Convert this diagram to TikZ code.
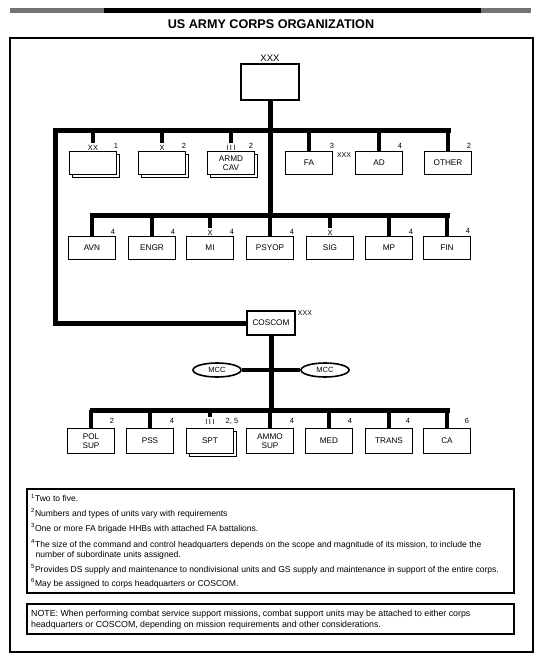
\documentclass[tikz,border=0pt]{standalone}
\usepackage{fontspec}
\setmainfont{Liberation Sans}
\usetikzlibrary{shadows,shapes.geometric}
\newcommand{\triI}{I\hspace{1.6pt}I\hspace{1.6pt}I}
\begin{document}
\begin{tikzpicture}[x=1pt,y=-1pt,
  bus/.style={line width=5pt},
  stub/.style={line width=4.5pt},
  unit/.style={draw, line width=1.6pt, fill=white, minimum width=47pt, minimum height=23pt,
    inner sep=1pt, font=\fontsize{8.2}{9}\selectfont, align=center},
  stack/.style={copy shadow={shadow xshift=3pt, shadow yshift=-3pt, draw, line width=1.3pt, fill=white}},
  lbl/.style={font=\fontsize{7.5}{8}\selectfont, inner sep=0pt},
  mcc/.style={draw, ellipse, line width=1.6pt, minimum width=48pt, minimum height=14pt,
    inner sep=0pt, fill=white, font=\fontsize{7.5}{8}\selectfont},
  note/.style={font=\fontsize{8.55}{9}\selectfont, anchor=west, inner sep=0pt},
  notetwo/.style={font=\fontsize{8.8}{9}\selectfont, anchor=west, inner sep=0pt},
  frame/.style={line width=1.5pt}
]
\useasboundingbox (0,0) rectangle (543,667);

% top band
\fill[black] (10,7.5) rectangle (531,12.5);
\fill[black!55] (10,7.5) rectangle (104,12.5);
\fill[black!55] (481,7.5) rectangle (531,12.5);

\node[font=\bfseries\fontsize{12.6}{14}\selectfont] (title) at (271,24) {US ARMY CORPS ORGANIZATION};

\draw[frame] (10,38) rectangle (533,652);

% corps HQ
\node[draw, line width=2.2pt, minimum width=58pt, minimum height=36pt] (corps) at (270,82) {};
\node[font=\fontsize{9.5}{10}\selectfont, inner sep=0pt] (corpsech) at (270,58) {XXX};

% bus coordinates
\coordinate (b1L) at (55,130);
\coordinate (b1R) at (450.5,130);
\coordinate (b2L) at (89.5,215);
\coordinate (b2R) at (450,215);
\coordinate (b3L) at (89.5,410);
\coordinate (b3R) at (449.5,410);

% row 1
\node[unit, stack] (xx) at (93,163) {};
\node[unit, stack] (x) at (162,163) {};
\node[unit, stack] (cav) at (231,163) {ARMD\\CAV};
\node[unit] (fa) at (309,163) {FA};
\node[unit] (ad) at (379,163) {AD};
\node[unit] (other) at (448,163) {OTHER};

\node[lbl] (exx) at (93,148) {XX};
\node[lbl] (ex) at (162,148) {X};
\node[lbl] (ecav) at (231,148) {\triI};
\node[lbl] (n1) at (116,146) {1};
\node[lbl] (n2) at (184,146) {2};
\node[lbl] (n3) at (251,146) {2};
\node[lbl] (n4) at (332,146) {3};
\node[lbl, font=\fontsize{7}{8}\selectfont] (fax) at (344,155) {XXX};
\node[lbl] (n5) at (400,146) {4};
\node[lbl] (n6) at (469,146) {2};

% row 2
\node[unit] (avn) at (92,248) {AVN};
\node[unit] (engr) at (152,248) {ENGR};
\node[unit] (mi) at (210,248) {MI};
\node[unit] (psyop) at (270,248) {PSYOP};
\node[unit] (sig) at (330,248) {SIG};
\node[unit] (mp) at (389,248) {MP};
\node[unit] (fin) at (447,248) {FIN};

\node[lbl] (emi) at (210,233) {X};
\node[lbl] (esig) at (330,233) {X};
\node[lbl] (m1) at (113,232) {4};
\node[lbl] (m2) at (173,232) {4};
\node[lbl] (m3) at (232,232) {4};
\node[lbl] (m4) at (292,232) {4};
\node[lbl] (m5) at (411,232) {4};
\node[lbl] (m6) at (468,231) {4};

% COSCOM
\node[unit, minimum width=48pt, minimum height=24pt] (coscom) at (271,323) {COSCOM};
\node[lbl, font=\fontsize{7}{8}\selectfont] (cosx) at (305,313) {XXX};

% MCCs
\node[mcc] (mccL) at (217,370) {MCC};
\node[mcc] (mccR) at (325,370) {MCC};

% row 3
\node[unit, minimum height=25pt] (pol) at (91,441) {POL\\SUP};
\node[unit, minimum height=25pt] (pss) at (150,441) {PSS};
\node[unit, stack, minimum height=25pt] (spt) at (210,441) {SPT};
\node[unit, minimum height=25pt] (ammo) at (270,441) {AMMO\\SUP};
\node[unit, minimum height=25pt] (med) at (329,441) {MED};
\node[unit, minimum height=25pt] (trans) at (389,441) {TRANS};
\node[unit, minimum height=25pt] (ca) at (447,441) {CA};

\node[lbl] (espt) at (210,422) {\triI};
\node[lbl] (k1) at (112,421) {2};
\node[lbl] (k2) at (172,421) {4};
\node[lbl] (k3) at (232,421) {2, 5};
\node[lbl] (k4) at (292,421) {4};
\node[lbl] (k5) at (350,421) {4};
\node[lbl] (k6) at (408,421) {4};
\node[lbl] (k7) at (467,421) {6};

% connectors
\draw[bus] (corps.south) -- (corps.south |- b2L);
\draw[bus, line join=miter] (coscom.west) -| (b1L) -- (b1R);
\draw[bus] (b2L) -- (b2R);
\draw[bus] (coscom.south) -- (coscom.south |- b3L);
\draw[bus] (b3L) -- (b3R);
\draw[line width=4.5pt] (mccL.east) -- (mccR.west);

\draw[stub] (xx |- b1L) -- ([yshift=2pt]exx.north);
\draw[stub] (x |- b1L) -- ([yshift=2pt]ex.north);
\draw[stub] (cav |- b1L) -- ([yshift=2pt]ecav.north);
\foreach \n in {fa,ad,other} \draw[stub] (\n |- b1L) -- (\n.north);

\foreach \n in {avn,engr,psyop,mp,fin} \draw[stub] (\n |- b2L) -- (\n.north);
\draw[stub] (mi |- b2L) -- ([yshift=2pt]emi.north);
\draw[stub] (sig |- b2L) -- ([yshift=2pt]esig.north);

\foreach \n in {pol,pss,ammo,med,trans,ca} \draw[stub] (\n |- b3L) -- (\n.north);
\draw[stub] (spt |- b3L) -- ([yshift=2pt]espt.north);

% footnotes
\draw[line width=1.4pt] (27,489) rectangle (514,593);
\node[note] (f1) at (31,498) {\textsuperscript{1}Two to five.};
\node[note] (f2) at (31,513) {\textsuperscript{2}Numbers and types of units vary with requirements};
\node[note] (f3) at (31,528) {\textsuperscript{3}One or more FA brigade HHBs with attached FA battalions.};
\node[note] (f4) at (31,544) {\textsuperscript{4}The size of the command and control headquarters depends on the scope and magnitude of its mission, to include the};
\node[note] (f4b) at (35.5,555) {number of subordinate units assigned.};
\node[note] (f5) at (31,569) {\textsuperscript{5}Provides DS supply and maintenance to nondivisional units and GS supply and maintenance in support of the entire corps.};
\node[note] (f6) at (31,583) {\textsuperscript{6}May be assigned to corps headquarters or COSCOM.};

\draw[line width=1.4pt] (27,604) rectangle (514,634);
\node[notetwo] (n1a) at (31,614) {NOTE: When performing combat service support missions, combat support units may be attached to either corps};
\node[notetwo] (n1b) at (31,625) {headquarters or COSCOM, depending on mission requirements and other considerations.};
\end{tikzpicture}
\end{document}
